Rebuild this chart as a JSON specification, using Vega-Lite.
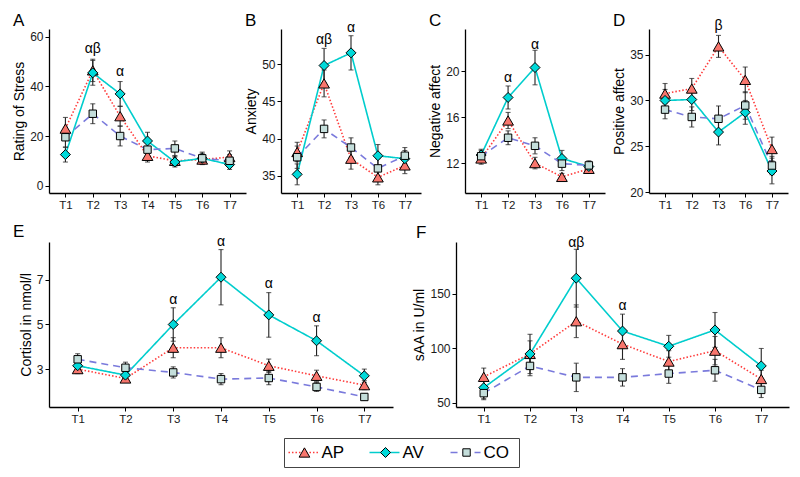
{
  "$schema": "https://vega.github.io/schema/vega-lite/v6.json",
  "padding": {"left": 12, "top": 11, "right": 12, "bottom": 11},
  "datasets": {
    "main": [
      {"p":"A","t":"T1","g":"AP","m":23,"lo":18.5,"hi":27.5},
      {"p":"A","t":"T2","g":"AP","m":46.5,"lo":42,"hi":51},
      {"p":"A","t":"T3","g":"AP","m":28,"lo":24,"hi":32},
      {"p":"A","t":"T4","g":"AP","m":12,"lo":9.5,"hi":14.5},
      {"p":"A","t":"T5","g":"AP","m":10,"lo":8,"hi":12},
      {"p":"A","t":"T6","g":"AP","m":10.5,"lo":8.5,"hi":12.5},
      {"p":"A","t":"T7","g":"AP","m":11.5,"lo":9,"hi":14},
      {"p":"A","t":"T1","g":"AV","m":12.5,"lo":9.5,"hi":15.5},
      {"p":"A","t":"T2","g":"AV","m":45.5,"lo":40.5,"hi":50.5},
      {"p":"A","t":"T3","g":"AV","m":37,"lo":32,"hi":42},
      {"p":"A","t":"T4","g":"AV","m":18,"lo":14.5,"hi":21.5},
      {"p":"A","t":"T5","g":"AV","m":9.5,"lo":7.5,"hi":11.5},
      {"p":"A","t":"T6","g":"AV","m":11,"lo":9,"hi":13},
      {"p":"A","t":"T7","g":"AV","m":8.5,"lo":6.5,"hi":10.5},
      {"p":"A","t":"T1","g":"CO","m":19.5,"lo":15.5,"hi":23.5},
      {"p":"A","t":"T2","g":"CO","m":29,"lo":25,"hi":33},
      {"p":"A","t":"T3","g":"CO","m":20,"lo":16,"hi":24},
      {"p":"A","t":"T4","g":"CO","m":14.5,"lo":11.5,"hi":17.5},
      {"p":"A","t":"T5","g":"CO","m":15,"lo":12,"hi":18},
      {"p":"A","t":"T6","g":"CO","m":11,"lo":8.5,"hi":13.5},
      {"p":"A","t":"T7","g":"CO","m":10,"lo":7.5,"hi":12.5},

      {"p":"B","t":"T1","g":"AP","m":38.2,"lo":36.9,"hi":39.5},
      {"p":"B","t":"T2","g":"AP","m":47.4,"lo":45.6,"hi":49.2},
      {"p":"B","t":"T3","g":"AP","m":37.3,"lo":35.9,"hi":38.7},
      {"p":"B","t":"T6","g":"AP","m":34.8,"lo":33.8,"hi":35.8},
      {"p":"B","t":"T7","g":"AP","m":36.4,"lo":35.3,"hi":37.5},
      {"p":"B","t":"T1","g":"AV","m":35.2,"lo":33.8,"hi":36.6},
      {"p":"B","t":"T2","g":"AV","m":49.8,"lo":47.5,"hi":52.1},
      {"p":"B","t":"T3","g":"AV","m":51.5,"lo":49.2,"hi":53.8},
      {"p":"B","t":"T6","g":"AV","m":37.7,"lo":36.2,"hi":39.2},
      {"p":"B","t":"T7","g":"AV","m":37.3,"lo":36.2,"hi":38.4},
      {"p":"B","t":"T1","g":"CO","m":37.5,"lo":36,"hi":39},
      {"p":"B","t":"T2","g":"CO","m":41.3,"lo":40.1,"hi":42.5},
      {"p":"B","t":"T3","g":"CO","m":38.8,"lo":37.5,"hi":40.1},
      {"p":"B","t":"T6","g":"CO","m":36.0,"lo":34.7,"hi":37.3},
      {"p":"B","t":"T7","g":"CO","m":37.7,"lo":36.6,"hi":38.8},

      {"p":"C","t":"T1","g":"AP","m":12.4,"lo":11.9,"hi":12.9},
      {"p":"C","t":"T2","g":"AP","m":15.7,"lo":15,"hi":16.4},
      {"p":"C","t":"T3","g":"AP","m":12.0,"lo":11.5,"hi":12.5},
      {"p":"C","t":"T6","g":"AP","m":10.8,"lo":10.5,"hi":11.1},
      {"p":"C","t":"T7","g":"AP","m":11.5,"lo":11.1,"hi":11.9},
      {"p":"C","t":"T1","g":"AV","m":12.7,"lo":12.2,"hi":13.2},
      {"p":"C","t":"T2","g":"AV","m":17.7,"lo":16.7,"hi":18.7},
      {"p":"C","t":"T3","g":"AV","m":20.3,"lo":18.8,"hi":21.8},
      {"p":"C","t":"T6","g":"AV","m":12.4,"lo":11.7,"hi":13.1},
      {"p":"C","t":"T7","g":"AV","m":11.7,"lo":11.4,"hi":12},
      {"p":"C","t":"T1","g":"CO","m":12.6,"lo":12.1,"hi":13.1},
      {"p":"C","t":"T2","g":"CO","m":14.2,"lo":13.6,"hi":14.8},
      {"p":"C","t":"T3","g":"CO","m":13.5,"lo":12.8,"hi":14.2},
      {"p":"C","t":"T6","g":"CO","m":11.95,"lo":11.35,"hi":12.55},
      {"p":"C","t":"T7","g":"CO","m":11.8,"lo":11.4,"hi":12.2},

      {"p":"D","t":"T1","g":"AP","m":30.75,"lo":29.65,"hi":31.85},
      {"p":"D","t":"T2","g":"AP","m":31.3,"lo":30.2,"hi":32.4},
      {"p":"D","t":"T3","g":"AP","m":35.9,"lo":34.7,"hi":37.1},
      {"p":"D","t":"T6","g":"AP","m":32.25,"lo":30.85,"hi":33.65},
      {"p":"D","t":"T7","g":"AP","m":24.7,"lo":23.4,"hi":26},
      {"p":"D","t":"T1","g":"AV","m":30.0,"lo":28.8,"hi":31.2},
      {"p":"D","t":"T2","g":"AV","m":30.1,"lo":28.9,"hi":31.3},
      {"p":"D","t":"T3","g":"AV","m":26.55,"lo":25.15,"hi":27.95},
      {"p":"D","t":"T6","g":"AV","m":28.7,"lo":27.4,"hi":30},
      {"p":"D","t":"T7","g":"AV","m":22.3,"lo":20.9,"hi":23.7},
      {"p":"D","t":"T1","g":"CO","m":29.0,"lo":28,"hi":30},
      {"p":"D","t":"T2","g":"CO","m":28.2,"lo":27.1,"hi":29.3},
      {"p":"D","t":"T3","g":"CO","m":28.0,"lo":26.6,"hi":29.4},
      {"p":"D","t":"T6","g":"CO","m":29.45,"lo":27.95,"hi":30.95},
      {"p":"D","t":"T7","g":"CO","m":22.9,"lo":21.9,"hi":23.9},

      {"p":"E","t":"T1","g":"AP","m":3.0,"lo":2.8,"hi":3.2},
      {"p":"E","t":"T2","g":"AP","m":2.58,"lo":2.43,"hi":2.73},
      {"p":"E","t":"T3","g":"AP","m":3.96,"lo":3.51,"hi":4.41},
      {"p":"E","t":"T4","g":"AP","m":3.96,"lo":3.51,"hi":4.41},
      {"p":"E","t":"T5","g":"AP","m":3.15,"lo":2.85,"hi":3.45},
      {"p":"E","t":"T6","g":"AP","m":2.7,"lo":2.45,"hi":2.95},
      {"p":"E","t":"T7","g":"AP","m":2.28,"lo":2.08,"hi":2.48},
      {"p":"E","t":"T1","g":"AV","m":3.15,"lo":2.85,"hi":3.45},
      {"p":"E","t":"T2","g":"AV","m":2.73,"lo":2.53,"hi":2.93},
      {"p":"E","t":"T3","g":"AV","m":5.0,"lo":4.25,"hi":5.75},
      {"p":"E","t":"T4","g":"AV","m":7.12,"lo":5.88,"hi":8.36},
      {"p":"E","t":"T5","g":"AV","m":5.43,"lo":4.43,"hi":6.43},
      {"p":"E","t":"T6","g":"AV","m":4.27,"lo":3.6,"hi":4.94},
      {"p":"E","t":"T7","g":"AV","m":2.7,"lo":2.4,"hi":3.0},
      {"p":"E","t":"T1","g":"CO","m":3.44,"lo":3.19,"hi":3.69},
      {"p":"E","t":"T2","g":"CO","m":3.06,"lo":2.81,"hi":3.31},
      {"p":"E","t":"T3","g":"CO","m":2.85,"lo":2.6,"hi":3.1},
      {"p":"E","t":"T4","g":"CO","m":2.55,"lo":2.3,"hi":2.8},
      {"p":"E","t":"T5","g":"CO","m":2.6,"lo":2.3,"hi":2.9},
      {"p":"E","t":"T6","g":"CO","m":2.2,"lo":2.0,"hi":2.4},
      {"p":"E","t":"T7","g":"CO","m":1.75,"lo":1.6,"hi":1.9},

      {"p":"F","t":"T1","g":"AP","m":74,"lo":66,"hi":82},
      {"p":"F","t":"T2","g":"AP","m":95,"lo":83,"hi":107},
      {"p":"F","t":"T3","g":"AP","m":125,"lo":110,"hi":140},
      {"p":"F","t":"T4","g":"AP","m":104,"lo":90,"hi":118},
      {"p":"F","t":"T5","g":"AP","m":88,"lo":78,"hi":98},
      {"p":"F","t":"T6","g":"AP","m":98,"lo":85,"hi":111},
      {"p":"F","t":"T7","g":"AP","m":72,"lo":64,"hi":80},
      {"p":"F","t":"T1","g":"AV","m":64,"lo":54,"hi":74},
      {"p":"F","t":"T2","g":"AV","m":95,"lo":77,"hi":113},
      {"p":"F","t":"T3","g":"AV","m":164.5,"lo":138,"hi":191},
      {"p":"F","t":"T4","g":"AV","m":116,"lo":100.5,"hi":131.5},
      {"p":"F","t":"T5","g":"AV","m":102,"lo":92,"hi":112},
      {"p":"F","t":"T6","g":"AV","m":117,"lo":101,"hi":133},
      {"p":"F","t":"T7","g":"AV","m":84,"lo":68,"hi":100},
      {"p":"F","t":"T1","g":"CO","m":59,"lo":53,"hi":65},
      {"p":"F","t":"T2","g":"CO","m":84,"lo":75,"hi":93},
      {"p":"F","t":"T3","g":"CO","m":73.5,"lo":60.5,"hi":86.5},
      {"p":"F","t":"T4","g":"CO","m":73.5,"lo":65.5,"hi":81.5},
      {"p":"F","t":"T5","g":"CO","m":77,"lo":68,"hi":86},
      {"p":"F","t":"T6","g":"CO","m":80,"lo":70,"hi":90},
      {"p":"F","t":"T7","g":"CO","m":62,"lo":55,"hi":69}
    ],
    "notes": [
      {"p":"A","t":"T2","lab":"αβ","y":55},
      {"p":"A","t":"T3","lab":"α","y":46},
      {"p":"B","t":"T2","lab":"αβ","y":53.2},
      {"p":"B","t":"T3","lab":"α","y":54.8},
      {"p":"C","t":"T2","lab":"α","y":19.4},
      {"p":"C","t":"T3","lab":"α","y":22.3},
      {"p":"D","t":"T3","lab":"β","y":38.1},
      {"p":"E","t":"T3","lab":"α","y":6.1},
      {"p":"E","t":"T4","lab":"α","y":8.68},
      {"p":"E","t":"T5","lab":"α","y":6.8},
      {"p":"E","t":"T6","lab":"α","y":5.28},
      {"p":"F","t":"T3","lab":"αβ","y":197},
      {"p":"F","t":"T4","lab":"α","y":139}
    ]
  },
  "vconcat": [
    {
      "hconcat": [
        {
          "width": 197, "height": 164,
          "title": {"text": "A", "dx": -36, "offset": -0.5},
          "layer": [
            {"data": {"name": "main"}, "transform": [{"filter": "datum.p === 'A'"}],
             "mark": {"type": "line", "strokeWidth": 1.6},
             "encoding": {
               "x": {"field": "t", "type": "ordinal", "scale": {"type": "point", "padding": 0.6}, "axis": {"title": null}},
               "y": {"field": "m", "type": "quantitative", "scale": {"domain": [-3, 63.2], "nice": false, "zero": false}, "axis": {"title": "Rating of Stress", "values": [0, 20, 40, 60]}},
               "stroke": {"field": "g", "type": "nominal", "scale": {"domain": ["AP","AV","CO"], "range": ["#FF3B3B","#00CDCD","#7A7ADC"]}, "legend": null},
               "strokeDash": {"field": "g", "type": "nominal", "scale": {"domain": ["AP","AV","CO"], "range": [[1.5,2],[1,0],[7,5]]}, "legend": null}
             }},
            {"data": {"name": "main"}, "transform": [{"filter": "datum.p === 'A'"}],
             "mark": {"type": "errorbar", "ticks": {"size": 5}, "color": "#222", "thickness": 1.1},
             "encoding": {
               "x": {"field": "t", "type": "ordinal"},
               "y": {"field": "lo", "type": "quantitative", "title": "Rating of Stress"},
               "y2": {"field": "hi"}
             }},
            {"data": {"name": "main"}, "transform": [{"filter": "datum.p === 'A'"}],
             "mark": {"type": "point", "filled": true, "stroke": "black", "strokeWidth": 1, "opacity": 1},
             "encoding": {
               "x": {"field": "t", "type": "ordinal"},
               "y": {"field": "m", "type": "quantitative", "title": "Rating of Stress"},
               "shape": {"field": "g", "type": "nominal", "scale": {"domain": ["AP","AV","CO"], "range": ["triangle-up","diamond","square"]}, "legend": null},
               "fill": {"field": "g", "type": "nominal", "scale": {"domain": ["AP","AV","CO"], "range": ["#F8766D","#00D9D9","#C4DEDB"]}, "legend": null},
               "size": {"field": "g", "type": "nominal", "scale": {"type": "ordinal", "domain": ["AP","AV","CO"], "range": [115, 100, 55]}, "legend": null}
             }},
            {"data": {"name": "notes"}, "transform": [{"filter": "datum.p === 'A'"}],
             "mark": {"type": "text", "fontSize": 14, "baseline": "middle", "color": "black"},
             "encoding": {
               "x": {"field": "t", "type": "ordinal"},
               "y": {"field": "y", "type": "quantitative", "title": "Rating of Stress"},
               "text": {"field": "lab"}
             }}
          ]
        },
        {
          "hconcat": [
            {
              "width": 140, "height": 164,
              "title": {"text": "B", "dx": -36, "offset": -8.5},
              "layer": [
                {"data": {"name": "main"}, "transform": [{"filter": "datum.p === 'B'"}],
                 "mark": {"type": "line", "strokeWidth": 1.6},
                 "encoding": {
                   "x": {"field": "t", "type": "ordinal", "scale": {"type": "point", "padding": 0.6}, "axis": {"title": null}},
                   "y": {"field": "m", "type": "quantitative", "scale": {"domain": [32.7, 54.7], "nice": false, "zero": false}, "axis": {"title": "Anxiety", "values": [35, 40, 45, 50]}},
                   "stroke": {"field": "g", "type": "nominal", "legend": null},
                   "strokeDash": {"field": "g", "type": "nominal", "legend": null}
                 }},
                {"data": {"name": "main"}, "transform": [{"filter": "datum.p === 'B'"}],
                 "mark": {"type": "errorbar", "ticks": {"size": 5}, "color": "#222", "thickness": 1.1},
                 "encoding": {
                   "x": {"field": "t", "type": "ordinal"},
                   "y": {"field": "lo", "type": "quantitative", "title": "Anxiety"},
                   "y2": {"field": "hi"}
                 }},
                {"data": {"name": "main"}, "transform": [{"filter": "datum.p === 'B'"}],
                 "mark": {"type": "point", "filled": true, "stroke": "black", "strokeWidth": 1, "opacity": 1},
                 "encoding": {
                   "x": {"field": "t", "type": "ordinal"},
                   "y": {"field": "m", "type": "quantitative", "title": "Anxiety"},
                   "shape": {"field": "g", "type": "nominal", "legend": null},
                   "fill": {"field": "g", "type": "nominal", "legend": null},
                   "size": {"field": "g", "type": "nominal", "scale": {"type": "ordinal", "domain": ["AP","AV","CO"], "range": [115, 100, 55]}, "legend": null}
                 }},
                {"data": {"name": "notes"}, "transform": [{"filter": "datum.p === 'B'"}],
                 "mark": {"type": "text", "fontSize": 14, "baseline": "middle", "color": "black"},
                 "encoding": {
                   "x": {"field": "t", "type": "ordinal"},
                   "y": {"field": "y", "type": "quantitative", "title": "Anxiety"},
                   "text": {"field": "lab"}
                 }}
              ]
            },
            {
              "width": 140, "height": 164,
              "title": {"text": "C", "dx": -36, "offset": -0.5},
              "layer": [
                {"data": {"name": "main"}, "transform": [{"filter": "datum.p === 'C'"}],
                 "mark": {"type": "line", "strokeWidth": 1.6},
                 "encoding": {
                   "x": {"field": "t", "type": "ordinal", "scale": {"type": "point", "padding": 0.6}, "axis": {"title": null}},
                   "y": {"field": "m", "type": "quantitative", "scale": {"domain": [9.4, 23.65], "nice": false, "zero": false}, "axis": {"title": "Negative affect", "values": [12, 16, 20]}},
                   "stroke": {"field": "g", "type": "nominal", "legend": null},
                   "strokeDash": {"field": "g", "type": "nominal", "legend": null}
                 }},
                {"data": {"name": "main"}, "transform": [{"filter": "datum.p === 'C'"}],
                 "mark": {"type": "errorbar", "ticks": {"size": 5}, "color": "#222", "thickness": 1.1},
                 "encoding": {
                   "x": {"field": "t", "type": "ordinal"},
                   "y": {"field": "lo", "type": "quantitative", "title": "Negative affect"},
                   "y2": {"field": "hi"}
                 }},
                {"data": {"name": "main"}, "transform": [{"filter": "datum.p === 'C'"}],
                 "mark": {"type": "point", "filled": true, "stroke": "black", "strokeWidth": 1, "opacity": 1},
                 "encoding": {
                   "x": {"field": "t", "type": "ordinal"},
                   "y": {"field": "m", "type": "quantitative", "title": "Negative affect"},
                   "shape": {"field": "g", "type": "nominal", "legend": null},
                   "fill": {"field": "g", "type": "nominal", "legend": null},
                   "size": {"field": "g", "type": "nominal", "scale": {"type": "ordinal", "domain": ["AP","AV","CO"], "range": [115, 100, 55]}, "legend": null}
                 }},
                {"data": {"name": "notes"}, "transform": [{"filter": "datum.p === 'C'"}],
                 "mark": {"type": "text", "fontSize": 14, "baseline": "middle", "color": "black"},
                 "encoding": {
                   "x": {"field": "t", "type": "ordinal"},
                   "y": {"field": "y", "type": "quantitative", "title": "Negative affect"},
                   "text": {"field": "lab"}
                 }}
              ]
            },
            {
              "width": 139, "height": 164,
              "title": {"text": "D", "dx": -36, "offset": -10.5},
              "layer": [
                {"data": {"name": "main"}, "transform": [{"filter": "datum.p === 'D'"}],
                 "mark": {"type": "line", "strokeWidth": 1.6},
                 "encoding": {
                   "x": {"field": "t", "type": "ordinal", "scale": {"type": "point", "padding": 0.6}, "axis": {"title": null}},
                   "y": {"field": "m", "type": "quantitative", "scale": {"domain": [19.9, 37.8], "nice": false, "zero": false}, "axis": {"title": "Positive affect", "values": [20, 25, 30, 35]}},
                   "stroke": {"field": "g", "type": "nominal", "legend": null},
                   "strokeDash": {"field": "g", "type": "nominal", "legend": null}
                 }},
                {"data": {"name": "main"}, "transform": [{"filter": "datum.p === 'D'"}],
                 "mark": {"type": "errorbar", "ticks": {"size": 5}, "color": "#222", "thickness": 1.1},
                 "encoding": {
                   "x": {"field": "t", "type": "ordinal"},
                   "y": {"field": "lo", "type": "quantitative", "title": "Positive affect"},
                   "y2": {"field": "hi"}
                 }},
                {"data": {"name": "main"}, "transform": [{"filter": "datum.p === 'D'"}],
                 "mark": {"type": "point", "filled": true, "stroke": "black", "strokeWidth": 1, "opacity": 1},
                 "encoding": {
                   "x": {"field": "t", "type": "ordinal"},
                   "y": {"field": "m", "type": "quantitative", "title": "Positive affect"},
                   "shape": {"field": "g", "type": "nominal", "legend": null},
                   "fill": {"field": "g", "type": "nominal", "legend": null},
                   "size": {"field": "g", "type": "nominal", "scale": {"type": "ordinal", "domain": ["AP","AV","CO"], "range": [115, 100, 55]}, "legend": null}
                 }},
                {"data": {"name": "notes"}, "transform": [{"filter": "datum.p === 'D'"}],
                 "mark": {"type": "text", "fontSize": 14, "baseline": "middle", "color": "black"},
                 "encoding": {
                   "x": {"field": "t", "type": "ordinal"},
                   "y": {"field": "y", "type": "quantitative", "title": "Positive affect"},
                   "text": {"field": "lab"}
                 }}
              ]
            }
          ],
          "spacing": 44,
          "bounds": "flush"
        }
      ],
      "spacing": 35,
      "bounds": "flush"
    },
    {
      "hconcat": [
        {
          "width": 344, "height": 165,
          "title": {"text": "E", "dx": -36, "offset": -6},
          "layer": [
            {"data": {"name": "main"}, "transform": [{"filter": "datum.p === 'E'"}],
             "mark": {"type": "line", "strokeWidth": 1.6},
             "encoding": {
               "x": {"field": "t", "type": "ordinal", "scale": {"type": "point", "padding": 0.6}, "axis": {"title": null}},
               "y": {"field": "m", "type": "quantitative", "scale": {"domain": [1.3, 8.7], "nice": false, "zero": false}, "axis": {"title": "Cortisol in nmol/l", "values": [3, 5, 7]}},
               "stroke": {"field": "g", "type": "nominal", "legend": null},
               "strokeDash": {"field": "g", "type": "nominal", "legend": null}
             }},
            {"data": {"name": "main"}, "transform": [{"filter": "datum.p === 'E'"}],
             "mark": {"type": "errorbar", "ticks": {"size": 5}, "color": "#222", "thickness": 1.1},
             "encoding": {
               "x": {"field": "t", "type": "ordinal"},
               "y": {"field": "lo", "type": "quantitative", "title": "Cortisol in nmol/l"},
               "y2": {"field": "hi"}
             }},
            {"data": {"name": "main"}, "transform": [{"filter": "datum.p === 'E'"}],
             "mark": {"type": "point", "filled": true, "stroke": "black", "strokeWidth": 1, "opacity": 1},
             "encoding": {
               "x": {"field": "t", "type": "ordinal"},
               "y": {"field": "m", "type": "quantitative", "title": "Cortisol in nmol/l"},
               "shape": {"field": "g", "type": "nominal", "legend": null},
               "fill": {"field": "g", "type": "nominal", "legend": null},
               "size": {"field": "g", "type": "nominal", "scale": {"type": "ordinal", "domain": ["AP","AV","CO"], "range": [115, 100, 55]}, "legend": null}
             }},
            {"data": {"name": "notes"}, "transform": [{"filter": "datum.p === 'E'"}],
             "mark": {"type": "text", "fontSize": 14, "baseline": "middle", "color": "black"},
             "encoding": {
               "x": {"field": "t", "type": "ordinal"},
               "y": {"field": "y", "type": "quantitative", "title": "Cortisol in nmol/l"},
               "text": {"field": "lab"}
             }}
          ]
        },
        {
          "width": 333, "height": 165,
          "title": {"text": "F", "dx": -40, "offset": -6},
          "layer": [
            {"data": {"name": "main"}, "transform": [{"filter": "datum.p === 'F'"}],
             "mark": {"type": "line", "strokeWidth": 1.6},
             "encoding": {
               "x": {"field": "t", "type": "ordinal", "scale": {"type": "point", "padding": 0.6}, "axis": {"title": null}},
               "y": {"field": "m", "type": "quantitative", "scale": {"domain": [46.3, 197.7], "nice": false, "zero": false}, "axis": {"title": "sAA in U/ml", "values": [50, 100, 150]}},
               "stroke": {"field": "g", "type": "nominal", "legend": null},
               "strokeDash": {"field": "g", "type": "nominal", "legend": null}
             }},
            {"data": {"name": "main"}, "transform": [{"filter": "datum.p === 'F'"}],
             "mark": {"type": "errorbar", "ticks": {"size": 5}, "color": "#222", "thickness": 1.1},
             "encoding": {
               "x": {"field": "t", "type": "ordinal"},
               "y": {"field": "lo", "type": "quantitative", "title": "sAA in U/ml"},
               "y2": {"field": "hi"}
             }},
            {"data": {"name": "main"}, "transform": [{"filter": "datum.p === 'F'"}],
             "mark": {"type": "point", "filled": true, "stroke": "black", "strokeWidth": 1, "opacity": 1},
             "encoding": {
               "x": {"field": "t", "type": "ordinal"},
               "y": {"field": "m", "type": "quantitative", "title": "sAA in U/ml"},
               "shape": {"field": "g", "type": "nominal", "legend": null},
               "fill": {"field": "g", "type": "nominal", "legend": null},
               "size": {"field": "g", "type": "nominal", "scale": {"type": "ordinal", "domain": ["AP","AV","CO"], "range": [115, 100, 55]}, "legend": null}
             }},
            {"data": {"name": "notes"}, "transform": [{"filter": "datum.p === 'F'"}],
             "mark": {"type": "text", "fontSize": 14, "baseline": "middle", "color": "black"},
             "encoding": {
               "x": {"field": "t", "type": "ordinal"},
               "y": {"field": "y", "type": "quantitative", "title": "sAA in U/ml"},
               "text": {"field": "lab"}
             }}
          ]
        }
      ],
      "spacing": 63,
      "bounds": "flush"
    },
    {
      "hconcat": [
        {"width": 225, "height": 29, "data": {"values": []}, "mark": "point"},
        {
          "width": 235, "height": 29,
          "view": {"stroke": "#444", "strokeWidth": 1},
          "data": {"values": [{"g": "AP"}, {"g": "AV"}, {"g": "CO"}]},
          "encoding": {
            "x": {"field": "g", "type": "nominal", "scale": {"type": "point", "padding": 0.45}, "axis": null},
            "y": {"datum": 0, "type": "quantitative", "scale": {"domain": [-1, 1]}, "axis": null}
          },
          "layer": [
            {"mark": {"type": "rule", "xOffset": -32, "x2Offset": -2, "strokeWidth": 1.6},
             "encoding": {
               "x2": {"field": "g"},
               "stroke": {"field": "g", "type": "nominal", "legend": null},
               "strokeDash": {"field": "g", "type": "nominal", "legend": null}
             }},
            {"mark": {"type": "point", "filled": true, "stroke": "black", "strokeWidth": 1, "opacity": 1, "xOffset": -16},
             "encoding": {
               "shape": {"field": "g", "type": "nominal", "legend": null},
               "fill": {"field": "g", "type": "nominal", "legend": null},
               "size": {"field": "g", "type": "nominal", "scale": {"type": "ordinal", "domain": ["AP","AV","CO"], "range": [115, 100, 55]}, "legend": null}
             }},
            {"mark": {"type": "text", "align": "left", "baseline": "middle", "xOffset": 1, "fontSize": 17, "color": "black"},
             "encoding": {"text": {"field": "g"}}}
          ]
        }
      ],
      "spacing": 10,
      "bounds": "flush"
    }
  ],
  "spacing": 12,
  "config": {
    "font": "Liberation Sans",
    "view": {"stroke": null},
    "axis": {"grid": false, "domainColor": "black", "domainWidth": 1.3, "tickColor": "black", "tickSize": 4, "tickWidth": 1, "labelColor": "#1a1a1a", "labelFontSize": 12, "titleFontSize": 14, "titleFontWeight": "normal", "titleColor": "black", "labelPadding": 2},
    "axisX": {"labelFontSize": 11.5, "labelAngle": 0},
    "axisY": {"titlePadding": 3},
    "title": {"fontSize": 17, "fontWeight": "normal", "anchor": "start", "frame": "group", "baseline": "alphabetic", "color": "black"}
  }
}
